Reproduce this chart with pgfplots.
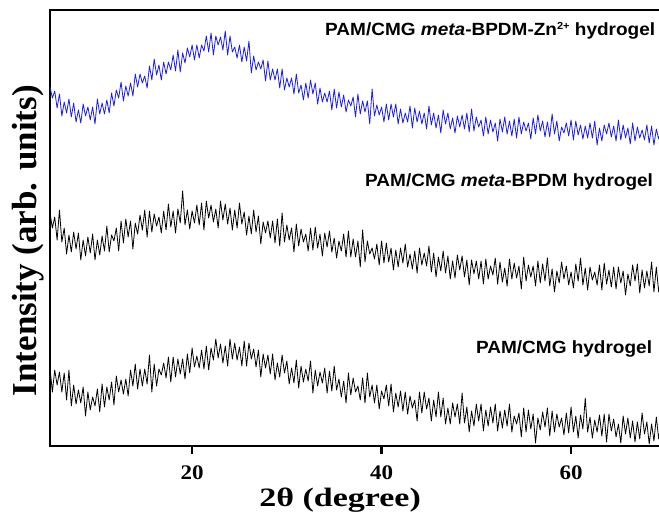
\documentclass[border=0pt]{standalone}
\usepackage{fontspec}
\setmainfont{Liberation Serif}
\newfontfamily\arialf{Liberation Sans}
\usepackage{graphicx}
\usepackage{pgfplots}
\pgfplotsset{compat=1.18}
\definecolor{xrdblue}{RGB}{28,28,235}
\begin{document}
\begin{tikzpicture}
\begin{axis}[
  name=ax,
  scale only axis,
  width=612pt, height=436pt,
  xmin=5, xmax=69.6, ymin=0, ymax=436,
  xtick={20,40,60},
  xticklabels={\scalebox{1}[0.9]{\fontsize{23}{23}\selectfont\bfseries 20},
               \scalebox{1}[0.9]{\fontsize{23}{23}\selectfont\bfseries 40},
               \scalebox{1}[0.9]{\fontsize{23}{23}\selectfont\bfseries 60}},
  xticklabel style={anchor=north, inner sep=0pt, yshift=-12pt},
  ytick=\empty,
  xtick pos=left,
  tick align=outside,
  major tick length=8pt,
  axis line style={line width=2.2pt},
  every tick/.style={line width=2.2pt, black},
  xlabel={\scalebox{1}[0.78]{\fontsize{34}{34}\selectfont\bfseries 2θ (degree)}},
  xlabel style={at={(axis description cs:0.474,0)}, anchor=base, inner sep=0pt, yshift=-60pt},
  ylabel={\fontsize{35}{35}\selectfont\bfseries Intensity (arb. units)},
  ylabel style={at={(axis description cs:-0.0213,0.471)}, anchor=base, inner sep=0pt},
]
\addplot[xrdblue, line width=0.8pt, line join=round] coordinates {
(5,359)(5.25,348)(5.5,355)(5.75,338)(6,352)(6.25,330)(6.5,344)(6.75,333)(7,347)(7.25,329)(7.5,343)(7.75,324)(8,336)(8.25,323)(8.5,342)(8.75,330)(9,339)(9.25,326)(9.5,339)(9.75,322)
(10,347)(10.25,332)(10.5,343)(10.75,332)(11,346)(11.25,333)(11.5,353)(11.75,340)(12,356)(12.25,348)(12.5,364)(12.75,345)(13,360)(13.25,350)(13.5,363)(13.75,350)(14,372)(14.25,359)(14.5,372)(14.75,363)
(15,370)(15.25,358)(15.5,380)(15.75,366)(16,387)(16.25,371)(16.5,381)(16.75,366)(17,384)(17.25,372)(17.5,384)(17.75,376)(18,391)(18.25,375)(18.5,396)(18.75,374)(19,393)(19.25,383)(19.5,398)(19.75,389)
(20,401)(20.25,386)(20.5,401)(20.75,388)(21,401)(21.25,395)(21.5,410)(21.75,394)(22,413)(22.25,391)(22.5,410)(22.75,401)(23,409)(23.25,396)(23.5,415)(23.75,391)(24,410)(24.25,394)(24.5,399)(24.75,388)
(25,401)(25.25,384)(25.5,399)(25.75,385)(26,405)(26.25,373)(26.5,390)(26.75,376)(27,384)(27.25,377)(27.5,386)(27.75,365)(28,385)(28.25,366)(28.5,377)(28.75,366)(29,377)(29.25,358)(29.5,377)(29.75,356)
(30,368)(30.25,359)(30.5,368)(30.75,352)(31,372)(31.25,353)(31.5,361)(31.75,346)(32,363)(32.25,348)(32.5,366)(32.75,352)(33,363)(33.25,342)(33.5,358)(33.75,344)(34,353)(34.25,344)(34.5,355)(34.75,336)
(35,357)(35.25,338)(35.5,354)(35.75,339)(36,351)(36.25,334)(36.5,346)(36.75,340)(37,349)(37.25,329)(37.5,352)(37.75,332)(38,345)(38.25,334)(38.5,345)(38.75,322)(39,357)(39.25,330)(39.5,341)(39.75,331)
(40,339)(40.25,324)(40.5,342)(40.75,326)(41,342)(41.25,329)(41.5,342)(41.75,322)(42,337)(42.25,323)(42.5,333)(42.75,324)(43,340)(43.25,318)(43.5,338)(43.75,324)(44,335)(44.25,322)(44.5,333)(44.75,317)
(45,340)(45.25,321)(45.5,333)(45.75,318)(46,331)(46.25,313)(46.5,336)(46.75,322)(47,333)(47.25,317)(47.5,328)(47.75,313)(48,330)(48.25,319)(48.5,331)(48.75,317)(49,333)(49.25,314)(49.5,337)(49.75,315)
(50,329)(50.25,319)(50.5,326)(50.75,310)(51,329)(51.25,312)(51.5,326)(51.75,314)(52,323)(52.25,305)(52.5,327)(52.75,314)(53,329)(53.25,312)(53.5,325)(53.75,310)(54,327)(54.25,308)(54.5,329)(54.75,312)
(55,324)(55.25,315)(55.5,323)(55.75,307)(56,328)(56.25,312)(56.5,331)(56.75,315)(57,325)(57.25,309)(57.5,324)(57.75,309)(58,332)(58.25,312)(58.5,325)(58.75,305)(59,319)(59.25,313)(59.5,323)(59.75,310)
(60,326)(60.25,306)(60.5,325)(60.75,311)(61,321)(61.25,307)(61.5,320)(61.75,308)(62,323)(62.25,308)(62.5,325)(62.75,301)(63,318)(63.25,305)(63.5,321)(63.75,312)(64,323)(64.25,309)(64.5,320)(64.75,305)
(65,326)(65.25,306)(65.5,321)(65.75,308)(66,318)(66.25,302)(66.5,323)(66.75,305)(67,319)(67.25,308)(67.5,316)(67.75,306)(68,321)(68.25,303)(68.5,320)(68.75,301)(69,317)(69.25,307)(69.5,317)
};
\addplot[black, line width=0.8pt, line join=round] coordinates {
(5,233)(5.25,218)(5.5,229)(5.75,206)(6,236)(6.25,204)(6.5,218)(6.75,192)(7,211)(7.25,194)(7.5,214)(7.75,197)(8,213)(8.25,186)(8.5,206)(8.75,190)(9,209)(9.25,193)(9.5,212)(9.75,186)
(10,206)(10.25,191)(10.5,210)(10.75,195)(11,220)(11.25,194)(11.5,211)(11.75,205)(12,218)(12.25,195)(12.5,225)(12.75,203)(13,227)(13.25,209)(13.5,225)(13.75,197)(14,223)(14.25,212)(14.5,231)(14.75,216)
(15,236)(15.25,209)(15.5,235)(15.75,214)(16,232)(16.25,220)(16.5,229)(16.75,213)(17,235)(17.25,216)(17.5,242)(17.75,219)(18,235)(18.25,213)(18.5,237)(18.75,223)(19,255)(19.25,221)(19.5,236)(19.75,217)
(20,235)(20.25,223)(20.5,241)(20.75,221)(21,243)(21.25,216)(21.5,245)(21.75,228)(22,241)(22.25,224)(22.5,237)(22.75,218)(23,245)(23.25,226)(23.5,242)(23.75,222)(24,238)(24.25,216)(24.5,236)(24.75,218)
(25,243)(25.25,222)(25.5,234)(25.75,211)(26,230)(26.25,212)(26.5,236)(26.75,214)(27,230)(27.25,202)(27.5,224)(27.75,213)(28,225)(28.25,208)(28.5,225)(28.75,203)(29,227)(29.25,200)(29.5,233)(29.75,204)
(30,221)(30.25,206)(30.5,218)(30.75,194)(31,222)(31.25,200)(31.5,217)(31.75,204)(32,212)(32.25,195)(32.5,218)(32.75,196)(33,219)(33.25,198)(33.5,212)(33.75,190)(34,213)(34.25,199)(34.5,215)(34.75,194)
(35,208)(35.25,188)(35.5,205)(35.75,195)(36,212)(36.25,189)(36.5,215)(36.75,189)(37,207)(37.25,189)(37.5,205)(37.75,179)(38,216)(38.25,184)(38.5,205)(38.75,192)(39,198)(39.25,187)(39.5,202)(39.75,181)
(40,205)(40.25,183)(40.5,203)(40.75,184)(41,198)(41.25,176)(41.5,196)(41.75,179)(42,198)(42.25,183)(42.5,202)(42.75,179)(43,192)(43.25,177)(43.5,195)(43.75,173)(44,198)(44.25,181)(44.5,193)(44.75,180)
(45,200)(45.25,174)(45.5,193)(45.75,169)(46,189)(46.25,175)(46.5,195)(46.75,173)(47,190)(47.25,167)(47.5,185)(47.75,168)(48,191)(48.25,176)(48.5,190)(48.75,169)(49,186)(49.25,161)(49.5,186)(49.75,172)
(50,185)(50.25,167)(50.5,185)(50.75,162)(51,187)(51.25,167)(51.5,180)(51.75,171)(52,188)(52.25,162)(52.5,184)(52.75,164)(53,178)(53.25,160)(53.5,187)(53.75,167)(54,183)(54.25,168)(54.5,180)(54.75,157)
(55,189)(55.25,165)(55.5,181)(55.75,169)(56,180)(56.25,160)(56.5,185)(56.75,163)(57,182)(57.25,165)(57.5,188)(57.75,160)(58,177)(58.25,154)(58.5,175)(58.75,163)(59,184)(59.25,167)(59.5,180)(59.75,161)
(60,174)(60.25,158)(60.5,182)(60.75,165)(61,188)(61.25,161)(61.5,178)(61.75,156)(62,179)(62.25,166)(62.5,174)(62.75,161)(63,181)(63.25,156)(63.5,183)(63.75,162)(64,176)(64.25,159)(64.5,179)(64.75,157)
(65,179)(65.25,163)(65.5,175)(65.75,151)(66,172)(66.25,160)(66.5,181)(66.75,165)(67,182)(67.25,153)(67.5,176)(67.75,158)(68,175)(68.25,160)(68.5,184)(68.75,154)(69,179)(69.25,154)(69.5,169)
};
\addplot[black, line width=0.8pt, line join=round] coordinates {
(5,78)(5.25,54)(5.5,76)(5.75,61)(6,74)(6.25,54)(6.5,73)(6.75,46)(7,76)(7.25,40)(7.5,61)(7.75,42)(8,56)(8.25,43)(8.5,59)(8.75,30)(9,54)(9.25,36)(9.5,49)(9.75,40)
(10,57)(10.25,34)(10.5,62)(10.75,39)(11,59)(11.25,46)(11.5,64)(11.75,41)(12,70)(12.25,54)(12.5,66)(12.75,52)(13,67)(13.25,50)(13.5,76)(13.75,60)(14,82)(14.25,57)(14.5,77)(14.75,60)
(15,77)(15.25,62)(15.5,91)(15.75,54)(16,82)(16.25,60)(16.5,77)(16.75,71)(17,83)(17.25,68)(17.5,89)(17.75,64)(18,89)(18.25,69)(18.5,87)(18.75,72)(19,87)(19.25,67)(19.5,92)(19.75,73)
(20,98)(20.25,79)(20.5,90)(20.75,78)(21,96)(21.25,77)(21.5,100)(21.75,76)(22,98)(22.25,86)(22.5,107)(22.75,88)(23,102)(23.25,83)(23.5,100)(23.75,80)(24,107)(24.25,87)(24.5,103)(24.75,86)
(25,99)(25.25,80)(25.5,105)(25.75,80)(26,103)(26.25,87)(26.5,97)(26.75,79)(27,96)(27.25,69)(27.5,92)(27.75,78)(28,91)(28.25,72)(28.5,92)(28.75,66)(29,83)(29.25,69)(29.5,91)(29.75,73)
(30,85)(30.25,62)(30.5,78)(30.75,63)(31,86)(31.25,58)(31.5,80)(31.75,64)(32,77)(32.25,65)(32.5,85)(32.75,53)(33,76)(33.25,60)(33.5,74)(33.75,63)(34,78)(34.25,53)(34.5,75)(34.75,55)
(35,80)(35.25,56)(35.5,67)(35.75,49)(36,65)(36.25,43)(36.5,73)(36.75,51)(37,68)(37.25,54)(37.5,60)(37.75,46)(38,68)(38.25,43)(38.5,73)(38.75,49)(39,61)(39.25,43)(39.5,61)(39.75,37)
(40,55)(40.25,47)(40.5,61)(40.75,40)(41,62)(41.25,34)(41.5,53)(41.75,39)(42,55)(42.25,35)(42.5,54)(42.75,32)(43,50)(43.25,38)(43.5,46)(43.75,25)(44,54)(44.25,33)(44.5,54)(44.75,37)
(45,48)(45.25,25)(45.5,46)(45.75,29)(46,54)(46.25,29)(46.5,48)(46.75,22)(47,38)(47.25,22)(47.5,43)(47.75,29)(48,42)(48.25,22)(48.5,53)(48.75,23)(49,39)(49.25,14)(49.5,35)(49.75,20)
(50,42)(50.25,25)(50.5,42)(50.75,15)(51,36)(51.25,20)(51.5,39)(51.75,23)(52,42)(52.25,15)(52.5,35)(52.75,18)(53,36)(53.25,20)(53.5,42)(53.75,14)(54,30)(54.25,22)(54.5,33)(54.75,9)
(55,38)(55.25,14)(55.5,36)(55.75,17)(56,32)(56.25,3)(56.5,28)(56.75,16)(57,34)(57.25,19)(57.5,38)(57.75,10)(58,35)(58.25,14)(58.5,32)(58.75,19)(59,28)(59.25,11)(59.5,33)(59.75,13)
(60,39)(60.25,14)(60.5,30)(60.75,8)(61,31)(61.25,17)(61.5,48)(61.75,14)(62,29)(62.25,8)(62.5,26)(62.75,14)(63,31)(63.25,10)(63.5,32)(63.75,4)(64,32)(64.25,15)(64.5,27)(64.75,9)
(65,22)(65.25,3)(65.5,30)(65.75,12)(66,28)(66.25,8)(66.5,25)(66.75,4)(67,24)(67.25,7)(67.5,33)(67.75,12)(68,24)(68.25,2)(68.5,22)(68.75,5)(69,29)(69.25,7)(69.5,24)
};
\node[anchor=base west, inner sep=0pt] at (axis cs:34.03,410)
  {\scalebox{1}[0.93]{\arialf\bfseries\fontsize{19}{19}\selectfont PAM/CMG \textit{meta}-BPDM-Zn\raisebox{7pt}{\fontsize{11}{11}\selectfont 2+} hydrogel}};
\node[anchor=base west, inner sep=0pt] at (axis cs:38.25,260)
  {\scalebox{1}[0.93]{\arialf\bfseries\fontsize{19}{19}\selectfont PAM/CMG \textit{meta}-BPDM hydrogel}};
\node[anchor=base west, inner sep=0pt] at (axis cs:49.96,93)
  {\scalebox{1}[0.93]{\arialf\bfseries\fontsize{19}{19}\selectfont PAM/CMG hydrogel}};
\end{axis}
\pgfresetboundingbox
\path ([xshift=-50pt,yshift=-69pt]ax.south west) rectangle ([xshift=-3pt,yshift=10pt]ax.north east);
\end{tikzpicture}
\end{document}
